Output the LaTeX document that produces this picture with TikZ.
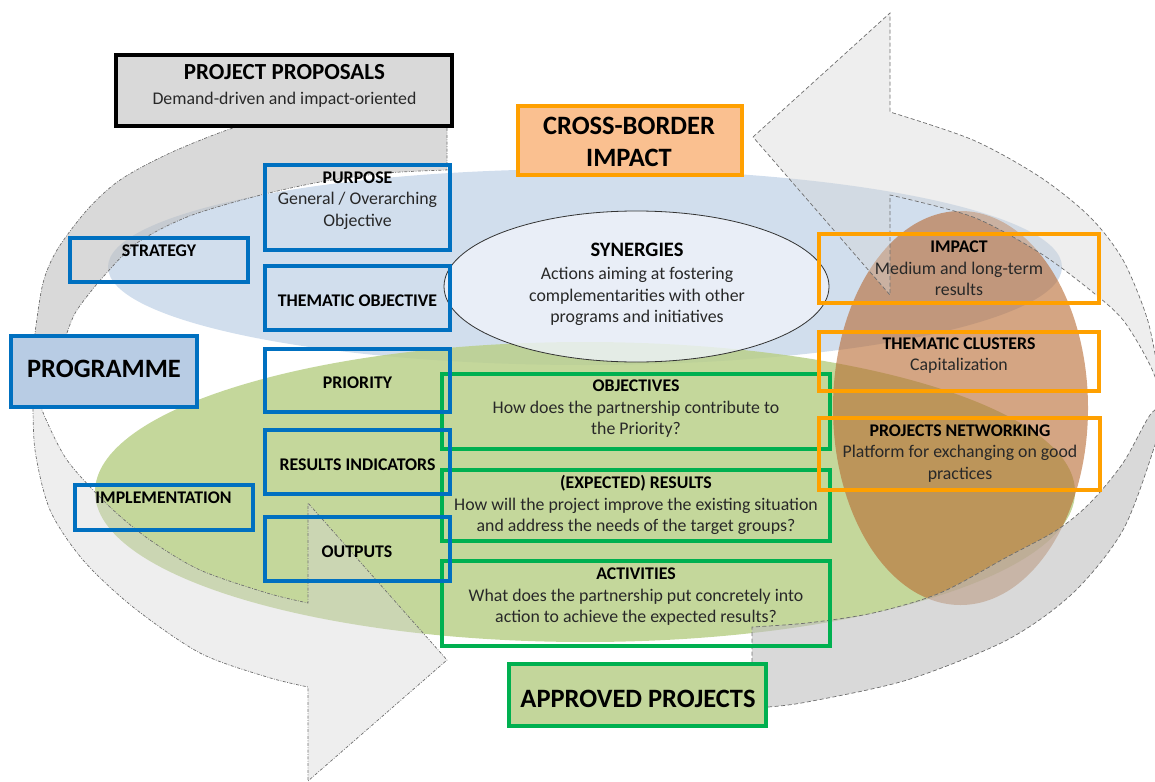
\documentclass[tikz,border=0pt]{standalone}
\usepackage{fontspec}
\setmainfont{Carlito}
\usetikzlibrary{shapes.geometric}
\definecolor{bluebd}{RGB}{0,112,192}
\definecolor{greenbd}{RGB}{0,176,80}
\definecolor{orangebd}{RGB}{255,160,0}
\definecolor{progfill}{RGB}{184,204,228}
\definecolor{cbfill}{RGB}{250,192,144}
\definecolor{apfill}{RGB}{195,214,155}
\definecolor{ppfill}{RGB}{217,217,217}
\definecolor{ellblue}{RGB}{184,204,228}
\definecolor{ellgreen}{RGB}{186,208,138}
\definecolor{ellbrown}{RGB}{183,105,48}
\definecolor{arrdark}{RGB}{192,192,192}
\definecolor{arrlight}{RGB}{214,214,214}
\definecolor{arrline}{RGB}{110,110,110}
\definecolor{synfill}{RGB}{239,243,250}
\definecolor{subtext}{RGB}{40,40,40}
\newcommand\boxttl[1]{{\bfseries\color{black}#1}}
\begin{document}
\begin{tikzpicture}[x=1pt,y=-1pt,
  darkarr/.style={fill=arrdark, fill opacity=0.6, draw=arrline, line width=0.7pt},
  lightarr/.style={fill=arrlight, fill opacity=0.42, draw=arrline, line width=0.7pt},
  dashL/.style={dash pattern=on 3pt off 1.5pt on 0.8pt off 1.5pt},
  dashR/.style={dash pattern=on 4pt off 2.5pt},
  bluebox/.style={draw=bluebd, line width=3.5pt, inner sep=0pt},
  greenbox/.style={draw=greenbd, line width=3.5pt, inner sep=0pt},
  orangebox/.style={draw=orangebd, line width=3.5pt, inner sep=0pt},
  tn/.style={align=center, inner sep=0pt, text=subtext, font=\fontsize{17.8}{21.5}\selectfont},
  tbig/.style={align=center, inner sep=0pt, text=black, font=\bfseries\fontsize{26.5}{32}\selectfont},
  ell/.style={ellipse, inner sep=0pt}
]
\useasboundingbox (0,0) rectangle (1155,781);

% background ellipses
\node[ell, fill=ellblue, fill opacity=0.65, minimum width=954pt, minimum height=196pt] (blueell) at (585,267) {};
\node[ell, fill=ellgreen, fill opacity=0.85, minimum width=980pt, minimum height=300pt] (greenell) at (585,492) {};
\node[ell, fill=ellbrown, fill opacity=0.6, minimum width=255pt, minimum height=394pt] (brownell) at (960.5,408) {};

% circular arrows
\begin{scope}
\clip (0,0) rectangle (1155,781);
\path[darkarr, dashL] plot[smooth] coordinates {(34,350) (35,333) (43,283) (57,250) (87,210) (120,180) (170,153) (233,128) (300,110)} -- (447,110) -- (447,170) -- plot[smooth] coordinates {(447,170) (387,173) (320,182) (253,197) (187,217) (137,243) (103,277) (77,310) (67,333) (63,350)} -- cycle;
\path[lightarr, dashL] plot[smooth] coordinates {(33,395) (35,450) (50,510) (83,560) (133,607) (200,653) (267,677) (308,687)} -- (308,781) -- (447,660) -- (308,503) -- (308,603) -- plot[smooth] coordinates {(308,603) (267,593) (200,570) (150,540) (110,507) (67,460) (42,410) (41,395)} -- cycle;
\path[lightarr, dashR] (753,137) -- (890,13) -- (890,112) -- plot[smooth] coordinates {(890,112) (973,140) (1040,177) (1090,217) (1123,260) (1147,318) (1158,370) (1165,405)} -- plot[smooth] coordinates {(1165,405) (1150,365) (1123,320) (1090,290) (1040,253) (973,217) (890,195)} -- (890,295) -- cycle;
\path[darkarr, dashR] plot[smooth] coordinates {(1165,405) (1155,445) (1123,530) (1073,593) (1007,640) (907,680) (807,702) (768,707)} -- (752,707) -- (752,627) -- plot[smooth] coordinates {(752,627) (807,623) (873,613) (940,593) (1007,557) (1057,530) (1090,503) (1123,463) (1150,415) (1165,405)} -- cycle;
\end{scope}

% synergies ellipse
\node[ell, draw=black!80, line width=0.8pt, fill=synfill, fill opacity=0.8, draw opacity=1, minimum width=385pt, minimum height=151pt] (syn) at (636.5,286.5) {};

% green boxes
\node[greenbox, minimum width=388pt, minimum height=75pt] (objectives) at (636,411.5) {};
\node[greenbox, minimum width=388pt, minimum height=71pt] (results) at (636,505.5) {};
\node[greenbox, minimum width=388pt, minimum height=85pt] (activities) at (636,603.5) {};
\node[greenbox, fill=apfill, minimum width=257pt, minimum height=62pt] (approved) at (637.5,695) {};

% blue boxes
\node[bluebox, minimum width=185pt, minimum height=85pt] (purpose) at (357.5,207.5) {};
\node[bluebox, minimum width=178pt, minimum height=44pt] (strategy) at (159,260) {};
\node[bluebox, minimum width=185pt, minimum height=64pt] (thematic) at (357.5,298) {};
\node[bluebox, fill=progfill, minimum width=186pt, minimum height=71pt] (programme) at (104,371.5) {};
\node[bluebox, minimum width=185pt, minimum height=63pt] (priority) at (357.5,380.5) {};
\node[bluebox, minimum width=185pt, minimum height=64pt] (resind) at (357.5,462) {};
\node[bluebox, minimum width=178pt, minimum height=45pt] (implementation) at (164,507.5) {};
\node[bluebox, minimum width=185pt, minimum height=64pt] (outputs) at (357.5,549) {};

% orange boxes
\node[orangebox, fill=cbfill, minimum width=224pt, minimum height=69pt] (crossborder) at (630,140.5) {};
\node[orangebox, minimum width=280pt, minimum height=69pt] (impact) at (959,268.5) {};
\node[orangebox, minimum width=280pt, minimum height=59pt] (clusters) at (959,361.5) {};
\node[orangebox, minimum width=281pt, minimum height=72pt] (networking) at (959.5,454) {};

% project proposals
\node[draw=black, line width=3.5pt, fill=ppfill, inner sep=0pt, minimum width=336pt, minimum height=71pt] (proposals) at (284,90.5) {};

% texts
\node[inner sep=0pt, text=black, font=\bfseries\fontsize{23}{27.6}\selectfont] (proposalsT) at (284.5,74) {\strut PROJECT PROPOSALS};
\node[tn] (proposalsS) at (284.5,100) {\strut Demand-driven and impact-oriented};
\node[tbig] (crossborderT) at (629,144) {\strut CROSS-BORDER\\\strut IMPACT};
\node[tbig] (programmeT) at (104,371) {\strut PROGRAMME};
\node[tbig] (approvedT) at (638,701) {\strut APPROVED PROJECTS};

\node[tn] (purposeT) at (357.5,200.5) {\strut\boxttl{PURPOSE}\\\strut General / Overarching\\\strut Objective};
\node[tn] (strategyT) at (159,252) {\strut\boxttl{STRATEGY}};
\node[tn] (thematicT) at (357.5,302) {\strut\boxttl{THEMATIC OBJECTIVE}};
\node[tn] (priorityT) at (357.5,384.5) {\strut\boxttl{PRIORITY}};
\node[tn] (resindT) at (357.5,466.5) {\strut\boxttl{RESULTS INDICATORS}};
\node[tn] (implementationT) at (163.5,499.5) {\strut\boxttl{IMPLEMENTATION}};
\node[tn] (outputsT) at (357,553) {\strut\boxttl{OUTPUTS}};

\node[inner sep=0pt, text=black, font=\bfseries\fontsize{20.5}{24.6}\selectfont] (synT) at (637,251.7) {\strut SYNERGIES};
\node[tn] (synS) at (637,297) {\strut Actions aiming at fostering\\\strut complementarities with other\\\strut programs and initiatives};

\node[tn] (objectivesT) at (636,409) {\strut\boxttl{OBJECTIVES}\\\strut How does the partnership contribute to\\\strut the Priority?};
\node[tn] (resultsT) at (636,506) {\strut\boxttl{(EXPECTED) RESULTS}\\\strut How will the project improve the existing situation\\\strut and address the needs of the target groups?};
\node[tn] (activitiesT) at (636,597) {\strut\boxttl{ACTIVITIES}\\\strut What does the partnership put concretely into\\\strut action to achieve the expected results?};

\node[tn] (impactT) at (959,269.7) {\strut\boxttl{IMPACT}\\\strut Medium and long-term\\\strut results};
\node[tn] (clustersT) at (959,355.8) {\strut\boxttl{THEMATIC CLUSTERS}\\\strut Capitalization};
\node[tn] (networkingT) at (960,453.3) {\strut\boxttl{PROJECTS NETWORKING}\\\strut Platform for exchanging on good\\\strut practices};
\end{tikzpicture}
\end{document}
